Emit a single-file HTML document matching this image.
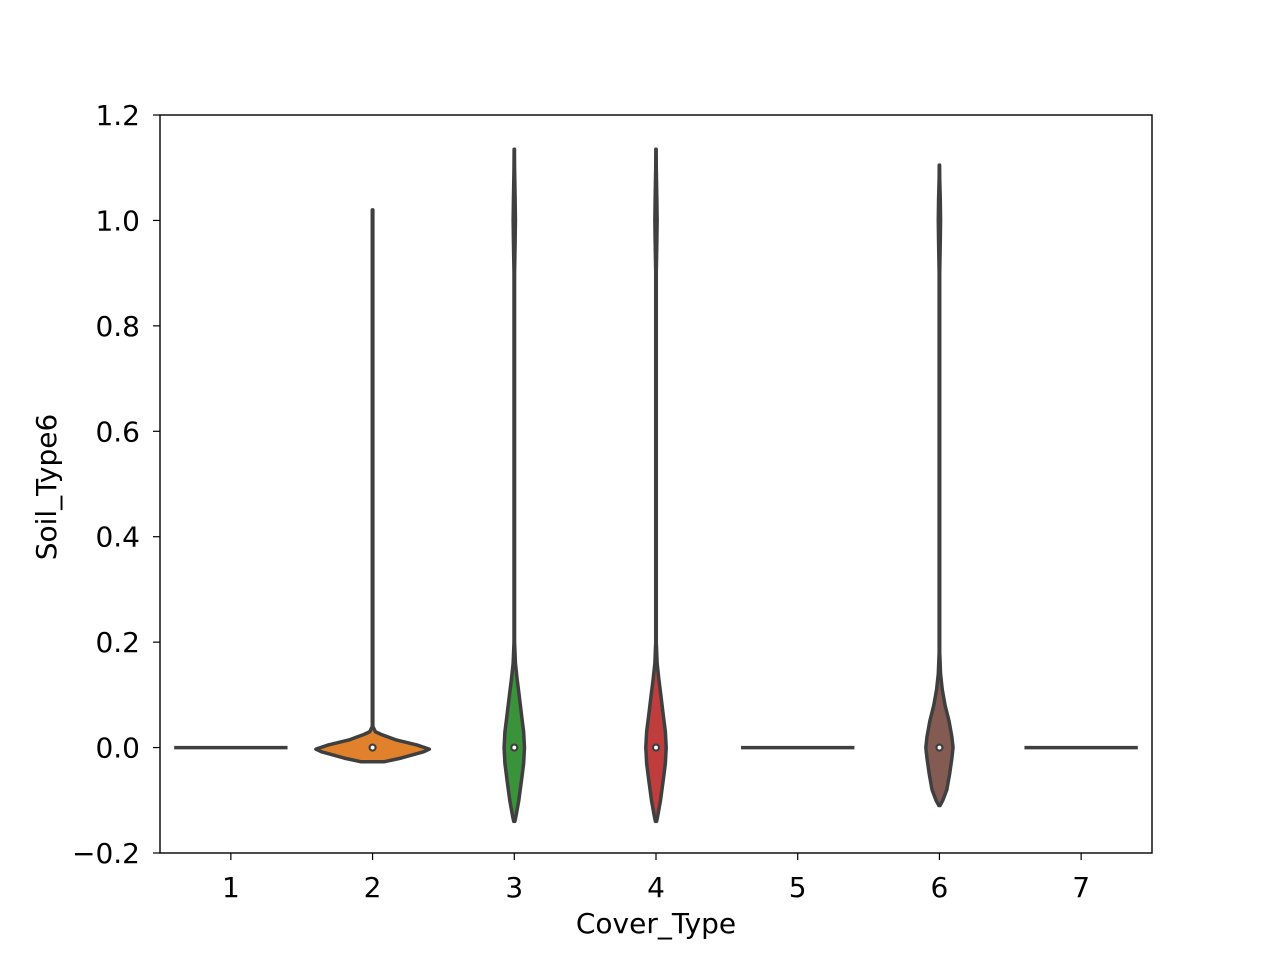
<!DOCTYPE html>
<html><head><meta charset="utf-8"><style>
html,body{margin:0;padding:0;background:#fff;}
svg text{font-family:"DejaVu Sans","Liberation Sans",sans-serif;fill:#000;}
</style></head><body>
<svg id="chart" width="1280" height="960" xmlns="http://www.w3.org/2000/svg"></svg>
<script>
const categories = ["1","2","3","4","5","6","7"];
const yTicks = [-0.2, 0.0, 0.2, 0.4, 0.6, 0.8, 1.0, 1.2];
const yTickLabels = ["\u22120.2","0.0","0.2","0.4","0.6","0.8","1.0","1.2"];
const fills = ["#3274a1","#e1812c","#3a923a","#c03d3e","#9372b2","#845b53","#d684bd"];
// density profile per violin: values and half-widths (fraction of max half-width)
const v2Vals = [-0.027,-0.02,-0.008,-0.003,0.005,0.015,0.025,0.03,0.04,1.02];
const v2Wid  = [0.2,0.5,0.9,1.0,0.78,0.4,0.15,0.05,0.005,0.005];
const v3Vals = [-0.14,-0.13,-0.1,-0.06,-0.03,0,0.03,0.06,0.1,0.13,0.16,0.2,0.9,0.96,1.0,1.04,1.1,1.135];
const v3Wid  = [0.01,0.03,0.08,0.13,0.165,0.18,0.165,0.13,0.085,0.05,0.02,0.005,0.005,0.015,0.02,0.015,0.005,0.003];
const v4Vals = [-0.14,-0.13,-0.1,-0.06,-0.03,0,0.03,0.06,0.1,0.13,0.16,0.2,0.9,0.96,1.0,1.04,1.1,1.135];
const v4Wid  = [0.01,0.03,0.08,0.13,0.165,0.18,0.165,0.13,0.085,0.05,0.02,0.005,0.005,0.015,0.02,0.015,0.005,0.003];
const v6Vals = [-0.11,-0.1,-0.08,-0.05,-0.02,0,0.02,0.05,0.08,0.11,0.14,0.18,0.9,0.96,1.0,1.04,1.08,1.105];
const v6Wid  = [0.01,0.06,0.13,0.18,0.22,0.24,0.22,0.17,0.1,0.05,0.02,0.005,0.005,0.015,0.02,0.015,0.005,0.003];
const flatCats = [0,4,6];

const L=160,R=1152,T=115,B=853, ymin=-0.2, ymax=1.2;
const NS="http://www.w3.org/2000/svg";
const svg=document.getElementById('chart');
const yS=v=>B-(v-ymin)/(ymax-ymin)*(B-T);
const step=(R-L)/categories.length;
const xS=i=>L+step*(i+0.5);
const maxHalf=step*0.4;
const FS=28;
function mk(tag,attrs){const e=document.createElementNS(NS,tag);for(const k in attrs)e.setAttribute(k,attrs[k]);svg.appendChild(e);return e;}

yTicks.forEach((t,i)=>{
  const y=yS(t);
  const tk=mk('line',{x1:L-7,x2:L,y1:y,y2:y,stroke:'#000','stroke-width':1.2});
  
  
  const tx=mk('text',{x:L-20,y:y+10,'text-anchor':'end','font-size':FS});
  tx.textContent=yTickLabels[i];
  
  
});
categories.forEach((c,i)=>{
  const x=xS(i);
  const tk=mk('line',{x1:x,x2:x,y1:B,y2:B+7,stroke:'#000','stroke-width':1.2});
  
  
  const tx=mk('text',{x:x,y:897,'text-anchor':'middle','font-size':FS});
  tx.textContent=c;
  
  
});

flatCats.forEach(i=>{
  const ln=mk('line',{x1:xS(i)-maxHalf,x2:xS(i)+maxHalf,y1:yS(0),y2:yS(0),stroke:'#3f3f3f','stroke-width':3.5});
  
  
});

function violin(i,vals,wid){
  const cx=xS(i);
  let d='';
  vals.forEach((v,k)=>{d+=(k?'L':'M')+(cx+wid[k]*maxHalf)+','+yS(v);});
  for(let k=vals.length-1;k>=0;k--) d+='L'+(cx-wid[k]*maxHalf)+','+yS(vals[k]);
  d+='Z';
  const p=mk('path',{d:d,fill:fills[i],stroke:'#3f3f3f','stroke-width':3.5,'stroke-linejoin':'round'});
  
  
  const m=mk('circle',{cx:cx,cy:yS(0),r:3,fill:'#fff',stroke:'#3f3f3f','stroke-width':2.2});
  
  
}
violin(1,v2Vals,v2Wid);
violin(2,v3Vals,v3Wid);
violin(3,v4Vals,v4Wid);
violin(5,v6Vals,v6Wid);

const frame=mk('rect',{x:L,y:T,width:R-L,height:B-T,fill:'none',stroke:'#000','stroke-width':1.4});


const xt=mk('text',{x:(L+R)/2,y:933,'text-anchor':'middle','font-size':FS});
xt.textContent='Cover_Type';


const yt=mk('text',{x:0,y:0,'text-anchor':'middle','font-size':FS,transform:'translate(56,'+((T+B)/2+3)+') rotate(-90)'});
yt.textContent='Soil_Type6';


</script>
</body></html>
